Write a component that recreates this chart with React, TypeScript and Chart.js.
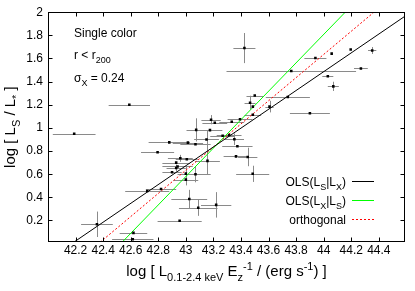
import React, { useEffect, useRef } from "react";
import { Chart, registerables } from "chart.js";
Chart.register(...registerables);

// ---- data ----
const xVals = [42.19, 42.59, 42.355, 42.62, 42.615, 42.955, 43.025, 43.09, 43.22, 43.485, 43.07, 43.0, 42.82, 42.72, 42.93, 42.9, 43.0, 42.94, 42.96, 43.007, 42.93, 42.795, 42.88, 43.015, 43.07, 43.075, 43.15, 43.157, 43.175, 43.183, 43.21, 43.333, 43.393, 43.267, 43.314, 43.352, 43.374, 43.364, 43.449, 43.425, 43.94, 44.058, 44.196, 44.352, 43.765, 44.27, 44.03, 44.07, 43.5, 43.466, 43.74, 43.486, 43.607, 43.486, 43.9];
const yVals = [0.95, 1.2, 0.167, 0.093, 0.037, 0.198, 0.385, 0.31, 0.335, 0.603, 0.6, 0.553, 0.472, 0.455, 0.653, 0.616, 0.605, 0.667, 0.737, 0.729, 0.7, 0.79, 0.875, 0.873, 0.858, 0.983, 0.9, 0.715, 0.981, 1.071, 1.044, 1.053, 1.074, 0.932, 0.938, 0.902, 0.842, 0.754, 0.749, 1.69, 1.605, 1.642, 1.678, 1.669, 1.492, 1.514, 1.447, 1.359, 1.28, 1.218, 1.267, 1.184, 1.184, 1.114, 1.127];
const xErrs = [0.155, 0.15, 0.115, 0.1, 0.15, 0.16, 0.13, 0.14, 0.11, 0.12, 0.11, 0.09, 0.11, 0.16, 0.07, 0.07, 0.06, 0.11, 0.09, 0.08, 0.1, 0.12, 0.15, 0.11, 0.11, 0.07, 0.09, 0.09, 0.09, 0.07, 0.09, 0.09, 0.09, 0.09, 0.09, 0.07, 0.11, 0.09, 0.07, 0.08, 0.08, 0, 0, 0.03, 0.47, 0.05, 0.04, 0.04, 0.06, 0.04, 0.16, 0, 0.03, 0.06, 0.145];
const yErrs = [0, 0, 0.11, 0, 0, 0, 0.08, 0.07, 0.11, 0.07, 0.07, 0.05, 0, 0, 0.03, 0, 0.06, 0, 0.03, 0, 0, 0, 0, 0, 0, 0.1, 0.08, 0.12, 0, 0.04, 0, 0, 0, 0, 0, 0.05, 0, 0, 0.08, 0.13, 0, 0, 0, 0.03, 0, 0, 0, 0.04, 0, 0.06, 0, 0, 0.05, 0, 0];

const xTicks = [42.2, 42.4, 42.6, 42.8, 43, 43.2, 43.4, 43.6, 43.8, 44, 44.2, 44.4];
const yTicks = [0.2, 0.4, 0.6, 0.8, 1, 1.2, 1.4, 1.6, 1.8, 2];

const fitSlopes = [0.813, 1.228, 1.001];
const fitAt42 = [-0.14, -0.648, -0.367];
const fitColors = ["#000000", "#00ff00", "#ff0000"];
const fitDashes = [[], [], [2, 2]];

const X_MIN = 42, X_MAX = 44.59, Y_MIN = 0.014, Y_MAX = 2;
const FONT = "'Liberation Sans', Arial, sans-serif";

type Seg = [string, "n" | "sub" | "sup"];
const legendTexts: Seg[][] = [
  [["OLS(L", "n"], ["S", "sub"], ["|L", "n"], ["X", "sub"], [")", "n"]],
  [["OLS(L", "n"], ["X", "sub"], ["|L", "n"], ["S", "sub"], [")", "n"]],
  [["orthogonal", "n"]],
];
const yTitle: Seg[] = [["log [ L", "n"], ["S", "sub"], [" / L", "n"], ["*", "sub"], [" ]", "n"]];
const xTitle: Seg[] = [["log [ L", "n"], ["0.1-2.4 keV", "sub"], [" E", "n"], ["z", "sub"], ["-1", "sup"], [" / (erg s", "n"], ["-1", "sup"], [") ]", "n"]];
const notes: Seg[][] = [
  [["Single color", "n"]],
  [["r < r", "n"], ["200", "sub"]],
  [["σ", "n"], ["X", "sub"], [" = 0.24", "n"]],
];

function segFont(kind: string, size: number) {
  const s = kind === "n" ? size : Math.round(size * 0.75);
  return `${s}px ${FONT}`;
}
function richWidth(ctx: CanvasRenderingContext2D, segs: Seg[], size: number) {
  let w = 0;
  for (const [t, k] of segs) {
    ctx.font = segFont(k, size);
    w += ctx.measureText(t).width;
  }
  return w;
}
function drawRich(ctx: CanvasRenderingContext2D, segs: Seg[], x: number, y: number, size: number, align: "left" | "right" | "center") {
  const w = richWidth(ctx, segs, size);
  let cx = align === "left" ? x : align === "right" ? x - w : x - w / 2;
  ctx.textAlign = "left";
  ctx.textBaseline = "alphabetic";
  for (const [t, k] of segs) {
    ctx.font = segFont(k, size);
    const dy = k === "sub" ? size * 0.3 : k === "sup" ? -size * 0.42 : 0;
    ctx.fillText(t, cx, y + dy);
    cx += ctx.measureText(t).width;
  }
}

const decorPlugin = {
  id: "decor",
  beforeDatasetsDraw(chart: any) {
    const ctx = chart.ctx as CanvasRenderingContext2D;
    const xs = chart.scales.x, ys = chart.scales.y;
    const a = chart.chartArea;
    ctx.save();
    ctx.beginPath();
    ctx.rect(a.left, a.top, a.right - a.left, a.bottom - a.top);
    ctx.clip();
    ctx.strokeStyle = "#8a8a8a";
    ctx.lineWidth = 1;
    for (let i = 0; i < xVals.length; i++) {
      const px = xs.getPixelForValue(xVals[i]);
      const py = ys.getPixelForValue(yVals[i]);
      if (xErrs[i] > 0) {
        const yy = Math.round(py) + 0.5;
        ctx.beginPath();
        ctx.moveTo(xs.getPixelForValue(xVals[i] - xErrs[i]), yy);
        ctx.lineTo(xs.getPixelForValue(xVals[i] + xErrs[i]), yy);
        ctx.stroke();
      }
      if (yErrs[i] > 0) {
        const xx = Math.round(px) + 0.5;
        ctx.beginPath();
        ctx.moveTo(xx, ys.getPixelForValue(yVals[i] - yErrs[i]));
        ctx.lineTo(xx, ys.getPixelForValue(yVals[i] + yErrs[i]));
        ctx.stroke();
      }
    }
    ctx.restore();
  },
  afterDraw(chart: any) {
    const ctx = chart.ctx as CanvasRenderingContext2D;
    const xs = chart.scales.x, ys = chart.scales.y;
    const a = chart.chartArea;
    ctx.save();
    ctx.strokeStyle = "#000";
    ctx.lineWidth = 1;
    const L = Math.round(a.left) + 0.5, R = Math.round(a.right) - 0.5;
    const T = Math.round(a.top) + 0.5, B = Math.round(a.bottom) - 0.5;
    ctx.strokeRect(L, T, R - L, B - T);
    const tl = 4;
    ctx.beginPath();
    for (const v of xTicks) {
      const px = Math.round(xs.getPixelForValue(v)) + 0.5;
      ctx.moveTo(px, B); ctx.lineTo(px, B - tl);
      ctx.moveTo(px, T); ctx.lineTo(px, T + tl);
    }
    for (const v of yTicks) {
      const py = Math.round(ys.getPixelForValue(v)) + 0.5;
      ctx.moveTo(L, py); ctx.lineTo(L + tl, py);
      ctx.moveTo(R, py); ctx.lineTo(R - tl, py);
    }
    ctx.stroke();

    ctx.fillStyle = "#000";
    // annotations
    drawRich(ctx, notes[0], 74, 37, 12, "left");
    drawRich(ctx, notes[1], 74, 59, 12, "left");
    drawRich(ctx, notes[2], 74, 82, 12, "left");

    // legend
    const legY = [181.5, 200.5, 219.5];
    for (let i = 0; i < 3; i++) {
      drawRich(ctx, legendTexts[i], 346, legY[i] + 4.5, 12, "right");
      ctx.beginPath();
      ctx.strokeStyle = fitColors[i];
      ctx.setLineDash(fitDashes[i]);
      ctx.moveTo(352, legY[i]);
      ctx.lineTo(374, legY[i]);
      ctx.stroke();
      ctx.setLineDash([]);
    }

    // axis titles
    ctx.fillStyle = "#000";
    drawRich(ctx, xTitle, (a.left + a.right) / 2, 276, 15, "center");
    ctx.save();
    ctx.translate(15, (a.top + a.bottom) / 2);
    ctx.rotate(-Math.PI / 2);
    drawRich(ctx, yTitle, 0, 0, 15, "center");
    ctx.restore();
    ctx.restore();
  },
};

export default function App() {
  const ref = useRef<HTMLCanvasElement | null>(null);
  useEffect(() => {
    if (!ref.current) return;
    const points = xVals.map((x, i) => ({ x, y: yVals[i] }));
    const lineSets = fitSlopes.map((m, i) => ({
      type: "line" as const,
      data: [
        { x: X_MIN, y: fitAt42[i] },
        { x: X_MAX, y: fitAt42[i] + m * (X_MAX - X_MIN) },
      ],
      borderColor: fitColors[i],
      borderWidth: 1,
      borderDash: fitDashes[i],
      pointRadius: 0,
      fill: false,
      showLine: true,
    }));
    const chart = new Chart(ref.current, {
      type: "scatter",
      data: {
        datasets: [
          {
            data: points,
            pointRadius: 1.8,
            pointBackgroundColor: "#000",
            pointBorderWidth: 0,
            pointStyle: "rect",
          } as any,
          ...lineSets,
        ],
      },
      options: {
        animation: false,
        responsive: false,
        devicePixelRatio: 1,
        layout: { padding: { left: 0, right: 10, top: 8, bottom: 0 } },
        plugins: { legend: { display: false }, tooltip: { enabled: false } },
        scales: {
          x: {
            type: "linear",
            min: X_MIN,
            max: X_MAX,
            grid: { display: false, drawTicks: false },
            border: { display: false },
            afterBuildTicks: (s: any) => { s.ticks = xTicks.map((v) => ({ value: v })); },
            afterFit: (s: any) => { s.height = 49; },
            ticks: {
              autoSkip: false,
              maxRotation: 0,
              padding: 1,
              color: "#000",
              font: { family: FONT, size: 12 },
              callback: (v: any) => String(Math.round(Number(v) * 10) / 10),
            },
          },
          y: {
            type: "linear",
            min: Y_MIN,
            max: Y_MAX,
            grid: { display: false, drawTicks: false },
            border: { display: false },
            afterBuildTicks: (s: any) => { s.ticks = yTicks.map((v) => ({ value: v })); },
            afterFit: (s: any) => { s.width = 48; },
            ticks: {
              autoSkip: false,
              padding: 5,
              color: "#000",
              font: { family: FONT, size: 12 },
              callback: (v: any) => String(Math.round(Number(v) * 10) / 10),
            },
          },
        },
      } as any,
      plugins: [decorPlugin],
    });
    return () => chart.destroy();
  }, []);
  return (
    <div style={{ position: "absolute", left: 0, top: 0, width: 415, height: 291, background: "#fff" }}>
      <canvas ref={ref} width={415} height={291} style={{ width: 415, height: 291, display: "block" }} />
    </div>
  );
}
